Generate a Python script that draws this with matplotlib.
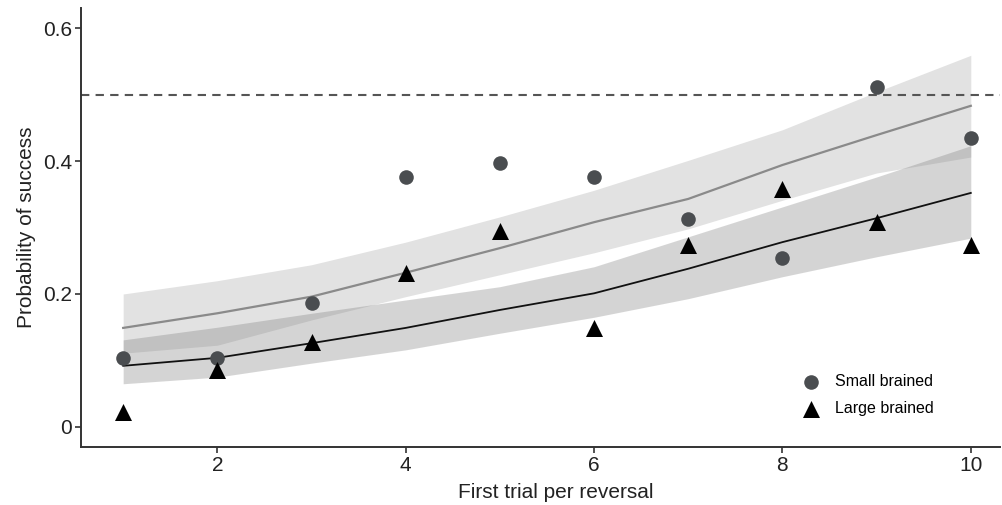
import matplotlib

matplotlib.use("Agg")
import matplotlib.pyplot as plt
import numpy as np

plt.rcParams["font.family"] = ["Liberation Sans", "DejaVu Sans"]

# observed proportions per trial
trials = np.arange(1, 11)
small_obs = [0.104, 0.104, 0.186, 0.376, 0.397, 0.376, 0.313, 0.254, 0.511, 0.435]
large_obs = [0.023, 0.086, 0.128, 0.232, 0.295, 0.149, 0.274, 0.358, 0.308, 0.274]

# fitted curves with confidence bands (read at each trial)
small_fit = [0.149, 0.171, 0.196, 0.232, 0.269, 0.308, 0.343, 0.394, 0.439, 0.483]
small_lo = [0.111, 0.123, 0.161, 0.196, 0.229, 0.262, 0.298, 0.341, 0.382, 0.406]
small_hi = [0.200, 0.220, 0.244, 0.278, 0.316, 0.356, 0.401, 0.447, 0.504, 0.559]

large_fit = [0.092, 0.104, 0.126, 0.149, 0.176, 0.201, 0.238, 0.278, 0.314, 0.352]
large_lo = [0.065, 0.075, 0.096, 0.116, 0.141, 0.165, 0.193, 0.226, 0.256, 0.284]
large_hi = [0.131, 0.150, 0.171, 0.191, 0.211, 0.241, 0.286, 0.331, 0.376, 0.423]

chance_level = 0.5

fig = plt.figure(figsize=(10.02, 5.05), dpi=100)
ax = fig.add_axes([0.081, 0.115, 0.917, 0.869])

ax.fill_between(trials, small_lo, small_hi, color="#e2e2e2", lw=0, zorder=1)
ax.fill_between(trials, large_lo, large_hi, color="#7e7e7e", alpha=0.33, lw=0, zorder=2)
ax.plot(trials, small_fit, color="#8a8a8a", lw=1.6, zorder=3)
ax.plot(trials, large_fit, color="#111111", lw=1.3, zorder=3)

ax.axhline(chance_level, color="#555555", lw=1.5, ls=(0, (4, 3)), zorder=2)

ax.scatter(trials, small_obs, s=110, marker="o", color="#4a4d50", lw=0,
           zorder=4, label="Small brained")
ax.scatter(trials, large_obs, s=150, marker="^", color="black", lw=0,
           zorder=4, label="Large brained")

ax.set_xlim(0.554, 10.31)
ax.set_ylim(-0.03, 0.63)
ax.set_xticks([2, 4, 6, 8, 10])
ax.set_yticks([0, 0.2, 0.4, 0.6])
ax.set_yticklabels(["0", "0.2", "0.4", "0.6"])
ax.tick_params(labelsize=15, colors="#333333", length=4, width=1.2,
               labelcolor="#222222", pad=2.5)

for side in ("top", "right"):
    ax.spines[side].set_visible(False)
for side in ("left", "bottom"):
    ax.spines[side].set_color("#333333")
    ax.spines[side].set_linewidth(1.4)

ax.set_xlabel("First trial per reversal", fontsize=15, color="#222222")
ax.xaxis.set_label_coords(0.517, -0.083, transform=ax.transAxes)
ax.set_ylabel("Probability of success", fontsize=15, color="#222222", labelpad=5)

ax.legend(loc="upper left", bbox_to_anchor=(0.774, 0.18), frameon=False,
          fontsize=11.5, handlelength=1.5, handletextpad=0.75, labelspacing=0.75,
          borderaxespad=0)

fig.savefig("out.png", dpi=100)
